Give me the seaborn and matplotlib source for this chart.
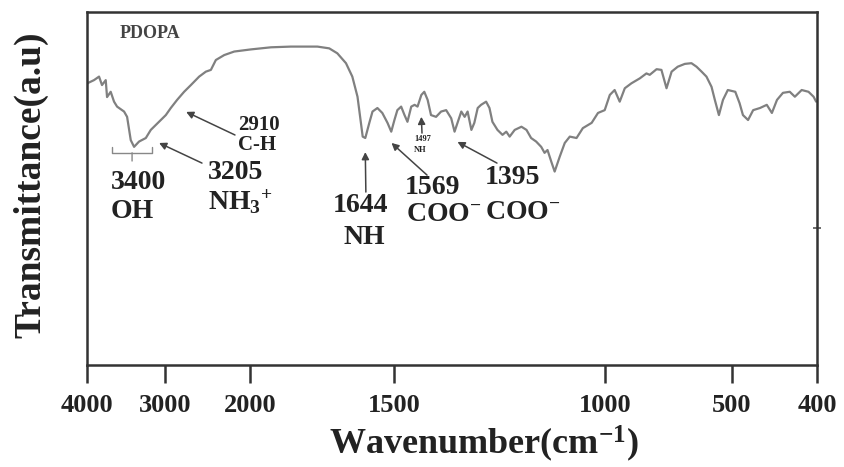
import numpy as np
import pandas as pd
import matplotlib
matplotlib.use("Agg")
import matplotlib.pyplot as plt
import seaborn as sns

# ---------------- data ----------------
wavenumber = [4000, 3996, 3910, 3845, 3807, 3759, 3742, 3695, 3652, 3613, 3523, 3484,
              3437, 3394, 3330, 3243, 3179, 3114, 3050, 2987, 2929, 2855, 2773, 2694,
              2597, 2519, 2460, 2402, 2304, 2187, 1998, 1928, 1859, 1767, 1726, 1698,
              1668, 1646, 1628, 1610, 1601, 1587, 1576, 1559, 1542, 1524, 1511, 1500,
              1493, 1484, 1476, 1469, 1460, 1452, 1445, 1436, 1429, 1421, 1413, 1401,
              1389, 1377, 1365, 1357, 1350, 1341, 1333, 1326, 1317, 1310, 1302, 1294,
              1282, 1274, 1267, 1255, 1243, 1234, 1226, 1214, 1198, 1186, 1175, 1163,
              1151, 1143, 1136, 1127, 1119, 1107, 1095, 1083, 1067, 1052, 1031, 1016,
              1000, 980, 961, 941, 921, 895, 862, 836, 823, 796, 777, 757, 737, 713,
              685, 659, 639, 619, 600, 580, 567, 551, 535, 516, 496, 491, 487, 481,
              475, 467, 459, 453, 447, 440, 432, 426, 418, 410, 404, 401]
transmittance = [79.5, 79.8, 80.7, 81.7, 79.3, 80.7, 75.9, 77.4, 74.6, 73.2, 71.8, 70.3,
                 63.7, 61.8, 63.3, 64.3, 66.6, 68.0, 69.4, 70.8, 72.8, 75.1, 77.4, 79.3,
                 81.7, 83.1, 83.6, 86.4, 87.8, 88.8, 89.4, 90.0, 90.2, 90.2, 89.7, 88.3,
                 85.5, 81.7, 76.0, 64.7, 64.3, 68.6, 71.8, 72.8, 71.4, 68.6, 66.1, 69.4,
                 72.2, 73.2, 70.8, 68.9, 73.2, 73.7, 73.2, 76.5, 77.4, 75.1, 70.8, 70.3,
                 71.8, 72.2, 69.9, 66.1, 68.6, 71.8, 70.3, 71.8, 66.6, 68.6, 72.8, 73.7,
                 74.6, 72.8, 68.9, 66.6, 65.2, 66.1, 64.7, 66.6, 67.5, 66.6, 64.3, 63.3,
                 61.8, 60.1, 60.9, 57.6, 54.8, 59.0, 62.9, 64.7, 64.3, 67.1, 68.6, 71.4,
                 72.2, 76.5, 77.9, 74.6, 78.4, 79.8, 81.2, 82.6, 82.2, 83.8, 83.6, 78.4,
                 83.1, 84.5, 85.3, 85.5, 84.5, 83.1, 81.7, 78.8, 75.1, 70.8, 75.1, 77.9,
                 77.4, 74.2, 70.8, 69.4, 72.2, 72.8, 73.7, 71.4, 75.1, 77.1, 77.4, 76.0,
                 77.9, 77.4, 76.0, 74.6]

x_ticks = [4000, 3000, 2000, 1500, 1000, 500, 400]
x_tick_labels = ["4000", "3000", "2000", "1500", "1000", "500", "400"]

# peak annotations: (label line 1, label line 2, wavenumber of marker, transmittance of marker)
peak_lines1 = ["3205", "2910", "1644", "1569", "1497", "1395"]
peak_lines2 = ["NH$_3$$^{+}$", "C-H", "NH", "COO$^{-}$", "NH", "COO$^{-}$"]
peak_wn = [3072, 2749, 1601, 1510, 1436, 1350]
peak_val = [62.9, 71.7, 60.3, 62.9, 70.3, 63.2]

df = pd.DataFrame({"Wavenumber": wavenumber, "Transmittance": transmittance})

# ---------------- style ----------------
sns.set_theme(style="ticks")
plt.rcParams["font.family"] = ["Liberation Serif", "DejaVu Serif"]
plt.rcParams["font.weight"] = "bold"
plt.rcParams["mathtext.fontset"] = "custom"
plt.rcParams["mathtext.rm"] = "Liberation Serif:bold"
plt.rcParams["mathtext.it"] = "Liberation Serif:bold"
plt.rcParams["mathtext.bf"] = "Liberation Serif:bold"
plt.rcParams["mathtext.default"] = "rm"

# piecewise axis (compressed high-wavenumber region, as in the original figure)
knots_wn = [400, 500, 1000, 1500, 2000, 3000, 4000]
knots_pos = [0, 85, 212, 422, 566, 651.4, 729]

def fwd(x):
    return np.interp(x, knots_wn, knots_pos)

def inv(y):
    return np.interp(y, knots_pos, knots_wn)

W, H = 844, 467
fig = plt.figure(figsize=(W / 100, H / 100), dpi=100)
ax = fig.add_axes([87 / W, (H - 365) / H, 730 / W, 353 / H])
ax.set_xscale("function", functions=(fwd, inv))

sns.lineplot(data=df, x="Wavenumber", y="Transmittance", ax=ax, color="#808080",
             linewidth=1.6, sort=False, legend=False)

ax.set_xlim(4000, 400)
ax.set_ylim(0, 100)
ax.set_xticks(x_ticks)
ax.set_xticklabels(x_tick_labels)
ax.xaxis.set_minor_locator(matplotlib.ticker.NullLocator())
ax.set_yticks([38.8])
ax.set_yticklabels([])
ax.yaxis.set_minor_locator(matplotlib.ticker.NullLocator())
ax.tick_params(axis="y", left=False, right=True, direction="inout", length=6,
               width=1.2, color="#555555")
ax.tick_params(axis="x", direction="out", length=13, width=1.8, color="#333333",
               labelsize=19, pad=8, labelcolor="#222222")
for lab in ax.get_xticklabels():
    lab.set_fontweight("bold")
for sp in ax.spines.values():
    sp.set_linewidth(1.8)
    sp.set_color("#333333")

ax.set_xlabel("Wavenumber(cm$^{-1}$)", fontsize=26, fontweight="bold", color="#222222")
ax.xaxis.label.set_va("center")
ax.xaxis.set_label_coords(0.544, -0.222)
ax.set_ylabel("Transmittance(a.u)", fontsize=27, fontweight="bold", color="#222222")
ax.yaxis.label.set_va("center")
ax.yaxis.set_label_coords(-0.0767, 0.51)

big = dict(fontsize=20, fontweight="bold", color="#222222", ha="left", va="center",
           transform=ax.transAxes)

ax.text(0.0452, 0.9405, "PDOPA", fontsize=13, fontweight="bold", color="#444444",
        ha="left", va="center", transform=ax.transAxes)

# 3400 OH with bracket
ax.text(0.0329, 0.518, "3400", **big)
ax.text(0.0329, 0.436, "OH", **big)
ax.annotate("", xy=(3420, 60.9), xytext=(3420, 57.0), textcoords="data",
            arrowprops=dict(arrowstyle="-[, widthB=1.2, lengthB=0.35", color="#888888", lw=1.0))

text_pos1 = [(0.1658, 0.544), (0.2068, 0.680), (0.337, 0.453), (0.4356, 0.504),
             (0.448, 0.640), (0.545, 0.530)]
text_pos2 = [(0.1658, 0.462), (0.2068, 0.623), (0.3507, 0.3626), (0.437, 0.425),
             (0.448, 0.609), (0.545, 0.433)]
tails = [(0.1575, 0.572), (0.2027, 0.6516), (0.382, 0.490), (0.4658, 0.538),
         (0.4589, 0.657), (0.5616, 0.572)]
sizes = [20, 15, 20, 20, 6, 20]

for l1, l2, wx, wy, p1, p2, tl, fs in zip(peak_lines1, peak_lines2, peak_wn, peak_val,
                                          text_pos1, text_pos2, tails, sizes):
    kw = dict(big)
    kw["fontsize"] = fs
    ax.text(p1[0], p1[1], l1, **kw)
    ax.text(p2[0], p2[1], l2, **kw)
    ax.annotate("", xy=(wx, wy), xycoords="data", xytext=tl, textcoords="axes fraction",
                arrowprops=dict(arrowstyle="-|>, head_length=0.35, head_width=0.18",
                                color="#444444", lw=1.1, shrinkA=0, shrinkB=0))

fig.savefig("out.png", dpi=100, facecolor="white")
